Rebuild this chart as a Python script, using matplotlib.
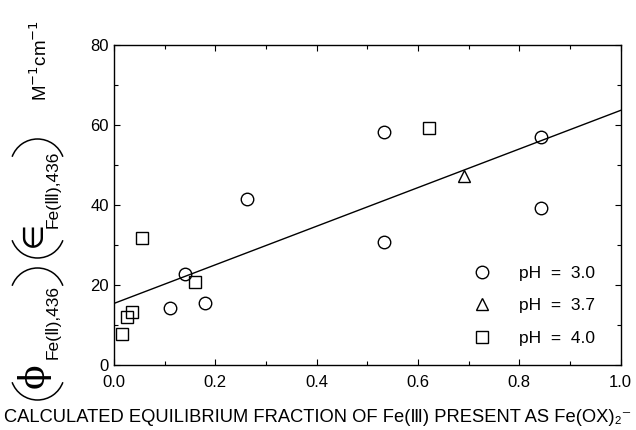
import numpy as np
import matplotlib
matplotlib.use("Agg")
import matplotlib.pyplot as plt
from matplotlib.ticker import MultipleLocator, FormatStrFormatter
from matplotlib.patches import Arc
from matplotlib.transforms import IdentityTransform

plt.rcParams['font.family'] = ['Liberation Sans', 'DejaVu Sans']
plt.rcParams['mathtext.fontset'] = 'dejavusans'

# données
x_ph30 = [0.532, 0.532, 0.842, 0.842, 0.262, 0.141, 0.110, 0.180]
y_ph30 = [58.3, 30.8, 57.1, 39.2, 41.6, 22.7, 14.3, 15.5]

x_ph37 = [0.691]
y_ph37 = [47.3]

x_ph40 = [0.622, 0.056, 0.160, 0.035, 0.025, 0.017]
y_ph40 = [59.3, 31.9, 20.8, 13.3, 12.1, 7.8]

# droite de régression (extrémités lues)
droite_x = [0.0, 1.0]
droite_y = [15.4, 63.7]

W, H = 636, 430
fig = plt.figure(figsize=(W / 100, H / 100), dpi=100)
ax = fig.add_axes([0.179, 0.151, 0.797, 0.744])

ax.plot(droite_x, droite_y, color='black', lw=1.0)

style = dict(linestyle='none', markerfacecolor='none', markeredgecolor='black',
             markeredgewidth=1.0, markersize=9)
ax.plot(x_ph30, y_ph30, marker='o', label='pH  =  3.0', **style)
ax.plot(x_ph37, y_ph37, marker='^', label='pH  =  3.7', **style)
ax.plot(x_ph40, y_ph40, marker='s', label='pH  =  4.0', **style)

ax.set_xlim(0, 1.0)
ax.set_ylim(0, 80)
ax.xaxis.set_major_locator(MultipleLocator(0.2))
ax.xaxis.set_minor_locator(MultipleLocator(0.1))
ax.yaxis.set_major_locator(MultipleLocator(20))
ax.yaxis.set_minor_locator(MultipleLocator(10))
ax.xaxis.set_major_formatter(FormatStrFormatter('%.1f'))
ax.tick_params(which='both', direction='in', top=True, right=True, labelsize=12)
ax.tick_params(which='major', length=4, width=0.8)
ax.tick_params(which='minor', length=3, width=0.8)
ax.tick_params(axis='x', pad=7)
for s in ax.spines.values():
    s.set_linewidth(1.0)

ax.legend(loc='lower right', bbox_to_anchor=(0.949, 0.06), frameon=False,
          fontsize=12.5, handlelength=1.0, handletextpad=1.6, labelspacing=1.0,
          borderaxespad=0, borderpad=0)

# titre de l'axe x
fig.text(0.5, 0.028, 'CALCULATED EQUILIBRIUM FRACTION OF Fe(Ⅲ) PRESENT AS Fe(OX)₂⁻',
         ha='center', va='center', fontsize=13.2)

# titre de l'axe y, construit morceau par morceau (positions en pixels depuis le haut)
def texte(x, y, s, **kw):
    fig.text(x / W, 1 - y / H, s, rotation=90, ha='center', va='center', **kw)

def parenthese(y_sommet, vers_le_bas):
    r = 27
    if vers_le_bas:
        centre, t1, t2 = (37.5, H - y_sommet + r), 200, 340
    else:
        centre, t1, t2 = (37.5, H - y_sommet - r), 20, 160
    fig.patches.append(Arc(centre, 2 * r, 2 * r, theta1=t1, theta2=t2,
                           transform=IdentityTransform(), color='black', lw=1.1))

parenthese(400, True)
texte(34, 376, 'ϕ', fontsize=26, family=['DejaVu Serif', 'DejaVu Sans'])
texte(53, 322, 'Fe(Ⅱ),436', fontsize=12.5)
parenthese(268, False)
parenthese(258, True)
texte(33, 240, r'$\in$', fontsize=26, math_fontfamily='stix')
texte(53, 189, 'Fe(Ⅲ),436', fontsize=12.5)
parenthese(139, False)

fig.text(40 / W, 1 - 60 / H, r'M$^{-1}$cm$^{-1}$', rotation=90, ha='center', va='center',
         fontsize=13.5)

fig.savefig('out.png', dpi=100)
